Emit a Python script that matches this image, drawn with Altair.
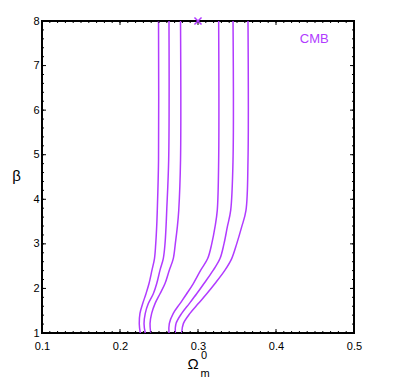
import altair as alt
import numpy as np
import pandas as pd

PURPLE = "#b13bff"

# beta levels at which the contour x-positions were read
beta_levels = [1, 1.21, 1.44, 1.66, 1.88, 2.11, 2.41, 2.67, 3.0, 3.38, 3.75, 4.88, 8]

# Omega_m^0 positions of each contour line
curve_a = [0.2260, 0.2247, 0.2256, 0.2291, 0.2333, 0.2372, 0.2410, 0.2442, 0.2458, 0.2470, 0.2478, 0.2494, 0.2494]
curve_b = [0.2324, 0.2308, 0.2324, 0.2363, 0.2427, 0.2471, 0.2513, 0.2555, 0.2577, 0.2590, 0.2599, 0.2624, 0.2628]
curve_c = [0.2394, 0.2385, 0.2406, 0.2449, 0.2513, 0.2577, 0.2632, 0.2683, 0.2709, 0.2735, 0.2753, 0.2776, 0.2776]
curve_d = [0.2628, 0.2632, 0.2683, 0.2769, 0.2855, 0.2940, 0.3035, 0.3124, 0.3176, 0.3218, 0.3247, 0.3265, 0.3265]
curve_e = [0.2709, 0.2718, 0.2791, 0.2888, 0.2983, 0.3077, 0.3196, 0.3282, 0.3333, 0.3376, 0.3419, 0.3449, 0.3449]
curve_f = [0.2791, 0.2812, 0.2897, 0.3004, 0.3112, 0.3218, 0.3346, 0.3432, 0.3496, 0.3560, 0.3615, 0.3641, 0.3641]

# best-fit marker
best_om = [0.30]
best_beta = [8.0]

# label
label_text = ["CMB"]
label_om = [0.449]
label_beta = [7.59]

# axis ticks
x_major = [0.1, 0.2, 0.3, 0.4, 0.5]
x_minor = [round(v, 2) for v in np.arange(0.10, 0.5001, 0.01)]
y_major = [1, 2, 3, 4, 5, 6, 7, 8]
y_minor = [round(v, 1) for v in np.arange(1.0, 8.001, 0.2)]

W, H = 312, 312
FONT = "Liberation Sans"

rows = []
for name, xs in zip("abcdef", [curve_a, curve_b, curve_c, curve_d, curve_e, curve_f]):
    for i, (xv, yv) in enumerate(zip(xs, beta_levels)):
        rows.append({"curve": name, "om": xv, "beta": yv, "idx": i})
df = pd.DataFrame(rows)

xscale = alt.Scale(domain=[0.1, 0.5], nice=False, zero=False)
yscale = alt.Scale(domain=[1, 8], nice=False, zero=False)

base = alt.Chart(df)

lines = base.mark_line(interpolate="catmull-rom", strokeWidth=1.5, color=PURPLE).encode(
    x=alt.X("om:Q", scale=xscale,
            axis=alt.Axis(values=x_major, format=".1f", ticks=False, domain=False, grid=False,
                          labelPadding=7, labelFlush=False, labelFontSize=11, labelColor="black",
                          labelFont=FONT, title=None)),
    y=alt.Y("beta:Q", scale=yscale,
            axis=alt.Axis(values=y_major, format="d", ticks=False, domain=False, grid=False,
                          labelPadding=3, labelFlush=False, labelFontSize=11, labelColor="black",
                          labelFont=FONT, title="β", titleAngle=0, titleX=-26, titleY=154,
                          titleBaseline="middle", titleAlign="center", titleFontSize=15,
                          titleFontWeight="normal", titleFont=FONT, titleColor="black")),
    detail="curve:N",
    order="idx:Q",
)

best = alt.Chart(pd.DataFrame({"om": best_om, "beta": best_beta})).mark_point(
    shape="M-1,-1L1,1M-1,1L1,-1", size=50, filled=False, strokeWidth=1.5, color=PURPLE,
    opacity=1, clip=False
).encode(x=alt.X("om:Q", scale=xscale), y=alt.Y("beta:Q", scale=yscale))

label = alt.Chart(pd.DataFrame({"om": label_om, "beta": label_beta, "t": label_text})).mark_text(
    fontSize=13, color=PURPLE, font=FONT, align="center", baseline="middle"
).encode(x=alt.X("om:Q", scale=xscale), y=alt.Y("beta:Q", scale=yscale), text="t:N")


def xticks(vals, length):
    d = alt.Chart(pd.DataFrame({"om": vals}))
    bottom = d.mark_rule(color="black", strokeWidth=1).encode(
        x=alt.X("om:Q", scale=xscale), y=alt.value(H), y2=alt.value(H - length))
    top = d.mark_rule(color="black", strokeWidth=1).encode(
        x=alt.X("om:Q", scale=xscale), y=alt.value(0), y2=alt.value(length))
    return [bottom, top]


def yticks(vals, length):
    d = alt.Chart(pd.DataFrame({"beta": vals}))
    left = d.mark_rule(color="black", strokeWidth=1).encode(
        y=alt.Y("beta:Q", scale=yscale), x=alt.value(0), x2=alt.value(length))
    right = d.mark_rule(color="black", strokeWidth=1).encode(
        y=alt.Y("beta:Q", scale=yscale), x=alt.value(W), x2=alt.value(W - length))
    return [left, right]


tick_layers = xticks(x_minor, 2) + xticks(x_major, 4) + yticks(y_minor, 2) + yticks(y_major, 4)

# x-axis title: Omega with superscript 0 and subscript m
omega = alt.Chart(pd.DataFrame({"t": ["Ω"]})).mark_text(
    fontSize=15, font=FONT, color="black", align="center", baseline="alphabetic").encode(
    text="t:N", x=alt.value(151), y=alt.value(348))
sup = alt.Chart(pd.DataFrame({"t": ["0"]})).mark_text(
    fontSize=11, font=FONT, color="black", align="center", baseline="alphabetic").encode(
    text="t:N", x=alt.value(162), y=alt.value(338))
sub = alt.Chart(pd.DataFrame({"t": ["m"]})).mark_text(
    fontSize=11, font=FONT, color="black", align="center", baseline="alphabetic").encode(
    text="t:N", x=alt.value(163), y=alt.value(356))

chart = alt.layer(lines, *tick_layers, best, label, omega, sup, sub).properties(
    width=W, height=H,
    autosize=alt.AutoSizeParams(type="none"),
    padding={"left": 34, "top": 13, "right": 30, "bottom": 55},
).configure(
    background="white",
    view=alt.ViewConfig(stroke="black", strokeWidth=2),
)

chart.save("out.html", embed_options={"renderer": "svg", "actions": False})
